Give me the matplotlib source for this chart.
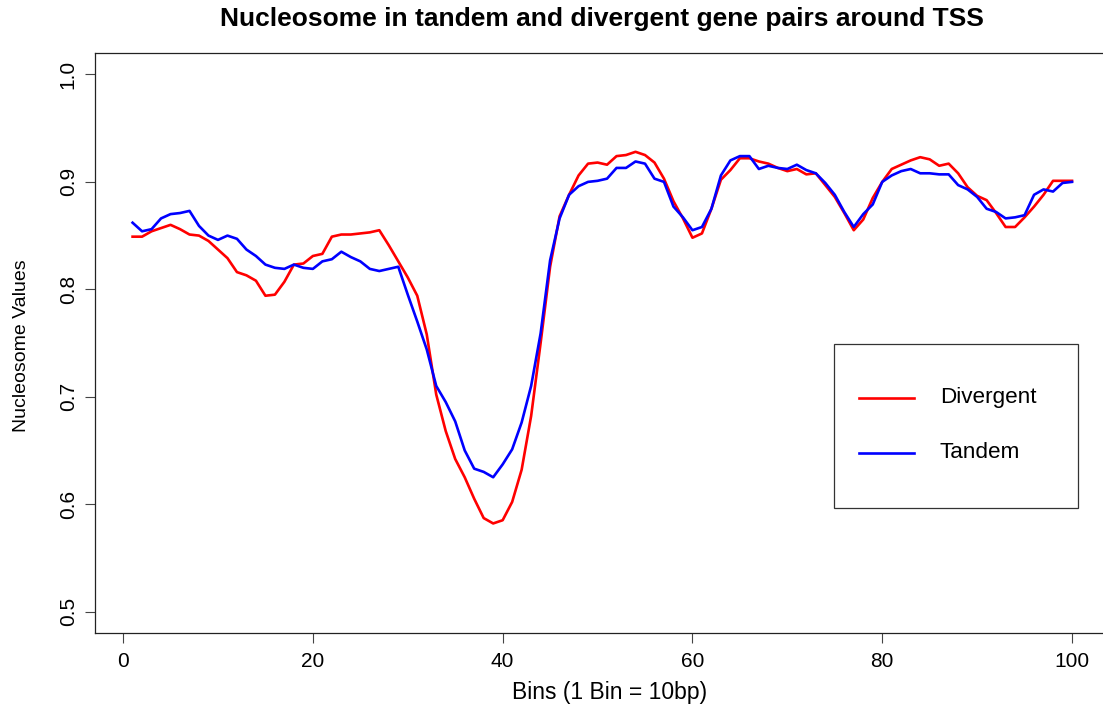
import matplotlib
matplotlib.use("Agg")
import matplotlib.pyplot as plt
from matplotlib.patches import Rectangle
from matplotlib.lines import Line2D
import numpy as np

plt.rcParams['font.family'] = ['Liberation Sans', 'DejaVu Sans']

bins = list(range(1, 101))

divergent = [
    0.849, 0.849, 0.854, 0.857, 0.860, 0.856, 0.851, 0.850, 0.845, 0.837,
    0.829, 0.816, 0.813, 0.808, 0.794, 0.795, 0.807, 0.823, 0.824, 0.831,
    0.833, 0.849, 0.851, 0.851, 0.852, 0.853, 0.855, 0.841, 0.826, 0.811,
    0.794, 0.758, 0.702, 0.668, 0.642, 0.625, 0.605, 0.587, 0.582, 0.585,
    0.602, 0.632, 0.682, 0.750, 0.821, 0.868, 0.888, 0.906, 0.917, 0.918,
    0.916, 0.924, 0.925, 0.928, 0.925, 0.918, 0.903, 0.882, 0.866, 0.848,
    0.852, 0.875, 0.902, 0.911, 0.922, 0.922, 0.919, 0.917, 0.913, 0.910,
    0.912, 0.907, 0.908, 0.897, 0.886, 0.871, 0.855, 0.865, 0.885, 0.900,
    0.912, 0.916, 0.920, 0.923, 0.921, 0.915, 0.917, 0.908, 0.895, 0.887,
    0.883, 0.871, 0.858, 0.858, 0.867, 0.877, 0.888, 0.901, 0.901, 0.901,
]

tandem = [
    0.862, 0.854, 0.856, 0.866, 0.870, 0.871, 0.873, 0.859, 0.850, 0.846,
    0.850, 0.847, 0.837, 0.831, 0.823, 0.820, 0.819, 0.823, 0.820, 0.819,
    0.826, 0.828, 0.835, 0.830, 0.826, 0.819, 0.817, 0.819, 0.821, 0.795,
    0.770, 0.744, 0.710, 0.695, 0.677, 0.650, 0.633, 0.630, 0.625, 0.637,
    0.651, 0.676, 0.710, 0.759, 0.827, 0.866, 0.888, 0.896, 0.900, 0.901,
    0.903, 0.913, 0.913, 0.919, 0.917, 0.903, 0.900, 0.877, 0.867, 0.855,
    0.858, 0.875, 0.906, 0.920, 0.924, 0.924, 0.912, 0.915, 0.913, 0.912,
    0.916, 0.911, 0.908, 0.899, 0.888, 0.872, 0.858, 0.870, 0.879, 0.900,
    0.906, 0.910, 0.912, 0.908, 0.908, 0.907, 0.907, 0.897, 0.893, 0.886,
    0.875, 0.872, 0.866, 0.867, 0.869, 0.888, 0.893, 0.891, 0.899, 0.900,
]

x_ticks = [0, 20, 40, 60, 80, 100]
y_ticks = [0.5, 0.6, 0.7, 0.8, 0.9, 1.0]
series_names = ["Divergent", "Tandem"]
series_colors = ["#FF0000", "#0000FF"]

W, H = 1103, 707
fig = plt.figure(figsize=(W / 100, H / 100), dpi=100)

def fx(px):
    return px / W

def fy(py):
    return 1 - py / H

left, right, top, bottom = 95, 1109.6, 53, 633
ax = fig.add_axes([fx(left), fy(bottom), fx(right) - fx(left), fy(top) - fy(bottom)])

ax.plot(bins, divergent, color=series_colors[0], lw=1.9, solid_joinstyle='round')
ax.plot(bins, tandem, color=series_colors[1], lw=1.9, solid_joinstyle='round')

ax.set_xlim(-2.96, 103.96)
ax.set_ylim(0.48, 1.02)
ax.set_xticks(x_ticks)
ax.set_xticklabels([str(t) for t in x_ticks])
ax.set_yticks(y_ticks)
ax.set_yticklabels([f"{t:.1f}" for t in y_ticks], rotation=90, va='center')
ax.tick_params(axis='both', length=7.5, width=0.8, color='#444444', labelsize=15, pad=5)
ax.tick_params(axis='x', pad=6)
for s in ax.spines.values():
    s.set_linewidth(0.9)
    s.set_color('#222222')

fig.text(fx(602), fy(19), "Nucleosome in tandem and divergent gene pairs around TSS",
         ha='center', va='center', fontsize=19, fontweight='bold')
fig.text(fx(610), fy(692), "Bins (1 Bin = 10bp)", ha='center', va='center', fontsize=16.5)
fig.text(fx(22), fy(346), "Nucleosome Values", ha='center', va='center', fontsize=14, rotation=90)

# legend
fig.patches.append(Rectangle((fx(834), fy(508)), fx(1078) - fx(834), fy(344) - fy(508),
                             transform=fig.transFigure, fill=False, edgecolor='#333333', lw=0.9))
for name, col, py in zip(series_names, series_colors, [398, 453]):
    fig.lines.append(Line2D([fx(859), fx(914)], [fy(py), fy(py)], transform=fig.transFigure,
                            color=col, lw=1.9))
    fig.text(fx(940), fy(py), name, ha='left', va='center', fontsize=16.2)

fig.savefig("out.png", dpi=100)
